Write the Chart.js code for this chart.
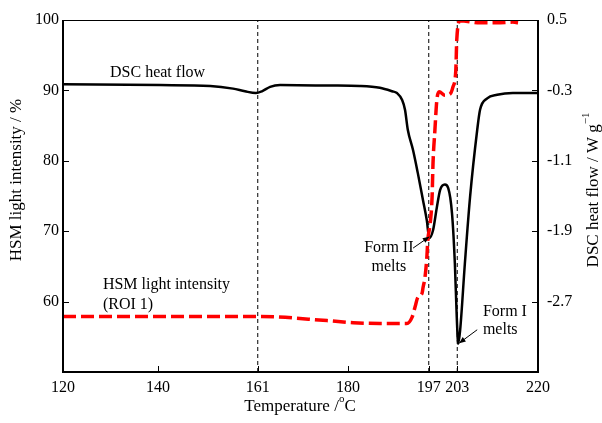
<!DOCTYPE html>
<html>
<head>
<meta charset="utf-8">
<script src="https://cdn.jsdelivr.net/npm/chart.js@4"></script>
<style>
  html, body { margin: 0; padding: 0; background: #fff; }
  #wrap { width: 602px; height: 423px; }
</style>
</head>
<body>
<div id="wrap"><canvas id="dscChart" width="602" height="423"></canvas></div>
<script>
// axis ticks
const tempTicks = [120, 140, 161, 180, 197, 203, 220];
const hsmTicks = [60, 70, 80, 90, 100];
const dscTicks = [0.5, -0.3, -1.1, -1.9, -2.7];
// dashed marker lines (°C)
const markerTemps = [161, 197, 203];

// DSC heat flow (W/g)
const dscTemp = [120, 140.4, 151, 155.8, 158.3, 160.6, 161.9, 163.6, 165.7, 176.2,
                 182.5, 186.7, 189.3, 190.3, 191.4, 192.0, 192.6, 193.7, 194.7, 195.8,
                 196.6, 197.1, 197.9, 198.7, 199.4, 200.4, 201.1, 201.9, 202.5, 202.9,
                 203.2, 203.6, 204.6, 205.7, 207.2, 207.8, 209.3, 211.4, 214.7, 220];
const dscFlow = [-0.23, -0.24, -0.25, -0.28, -0.31, -0.33, -0.31, -0.26, -0.24, -0.245,
                 -0.25, -0.27, -0.31, -0.33, -0.41, -0.52, -0.75, -0.98, -1.24, -1.55,
                 -1.78, -1.98, -1.89, -1.63, -1.43, -1.37, -1.41, -1.70, -2.27, -2.88,
                 -3.18, -3.03, -2.27, -1.51, -0.75, -0.52, -0.39, -0.35, -0.33, -0.33];

// HSM light intensity (%), ROI 1
const hsmTemp = [120, 140, 161, 175.6, 181.1, 186.7, 192.4, 193.5, 194.1, 194.7,
                 195.6, 195.8, 196.2, 196.6, 196.8, 197.3, 197.7, 197.9, 198.3, 198.7,
                 199.2, 200.4, 201.5, 202.1, 202.7, 202.9, 203.6, 207.8, 211.4, 214.7, 215.8];
const hsmLight = [57.9, 57.9, 57.9, 57.3, 57.0, 56.9, 56.9, 57.8, 59.2, 60.6,
                  61.2, 62.0, 63.4, 66.3, 68.7, 71.1, 74.8, 79.7, 84.4, 88.6,
                  89.8, 89.3, 89.5, 90.5, 92.9, 97.2, 99.9, 99.6, 99.6, 99.7, 99.6];

const FONT = '"Liberation Serif", "Times New Roman", serif';
const toPts = (xs, ys) => xs.map((v, i) => ({ x: v, y: ys[i] }));
const fixTicks = list => s => { s.ticks = list.map(v => ({ value: v })); };

// draws text made of normal / superscript pieces, centred on (cx, cy)
function drawRich(ctx, parts, cx, cy, angle, size) {
    const supSize = Math.round(size * 0.65);
    let total = 0;
    const widths = parts.map(p => {
        ctx.font = (p.sup ? supSize : size) + 'px ' + FONT;
        const w = ctx.measureText(p.t).width;
        total += w;
        return w;
    });
    ctx.save();
    ctx.translate(cx, cy);
    ctx.rotate(angle);
    ctx.textBaseline = 'middle';
    ctx.textAlign = 'left';
    ctx.fillStyle = '#000';
    let px = -total / 2;
    parts.forEach((p, i) => {
        ctx.font = (p.sup ? supSize : size) + 'px ' + FONT;
        ctx.fillText(p.t, px, p.sup ? -size * 0.45 : 0);
        px += widths[i];
    });
    ctx.restore();
}

const decor = {
    id: 'decor',
    afterDatasetsDraw(chart) {
        const { ctx, chartArea: a, scales: { x, y, y1 } } = chart;
        ctx.save();
        ctx.strokeStyle = '#000';

        // axes box
        ctx.lineWidth = 2;
        ctx.beginPath();
        ctx.moveTo(a.left, a.top);
        ctx.lineTo(a.left, a.bottom);
        ctx.lineTo(a.right, a.bottom);
        ctx.lineTo(a.right, a.top);
        ctx.stroke();
        ctx.lineWidth = 1;
        ctx.beginPath();
        ctx.moveTo(a.left, a.top + 0.5);
        ctx.lineTo(a.right, a.top + 0.5);
        ctx.stroke();

        // inward tick marks
        ctx.lineWidth = 1;
        ctx.beginPath();
        x.ticks.forEach(t => {
            const p = Math.round(x.getPixelForValue(t.value)) + 0.5;
            ctx.moveTo(p, a.bottom); ctx.lineTo(p, a.bottom - 6);
        });
        y.ticks.forEach(t => {
            const p = Math.round(y.getPixelForValue(t.value)) + 0.5;
            ctx.moveTo(a.left, p); ctx.lineTo(a.left + 6, p);
        });
        y1.ticks.forEach(t => {
            const p = Math.round(y1.getPixelForValue(t.value)) + 0.5;
            ctx.moveTo(a.right, p); ctx.lineTo(a.right - 6, p);
        });
        ctx.stroke();

        // curve labels
        ctx.fillStyle = '#000';
        ctx.font = '16px ' + FONT;
        ctx.textBaseline = 'middle';
        const label = (txt, tx, vy, align) => {
            ctx.textAlign = align || 'left';
            ctx.fillText(txt, x.getPixelForValue(tx), y.getPixelForValue(vy));
        };
        label('DSC heat flow', 129.9, 92.5);
        label('HSM light intensity', 128.4, 62.4);
        label('(ROI 1)', 128.4, 59.6);
        label('Form II', 188.6, 67.6, 'center');
        label('melts', 188.6, 64.9, 'center');
        label('Form I', 208.4, 58.6);
        label('melts', 208.4, 56.0);

        // arrows
        const arrow = (t0, v0, t1, v1) => {
            const xa = x.getPixelForValue(t0), ya = y.getPixelForValue(v0);
            const xb = x.getPixelForValue(t1), yb = y.getPixelForValue(v1);
            const ang = Math.atan2(yb - ya, xb - xa);
            ctx.lineWidth = 1;
            ctx.beginPath();
            ctx.moveTo(xa, ya); ctx.lineTo(xb, yb);
            ctx.stroke();
            ctx.beginPath();
            ctx.moveTo(xb, yb);
            ctx.lineTo(xb - 7 * Math.cos(ang - 0.4), yb - 7 * Math.sin(ang - 0.4));
            ctx.lineTo(xb - 7 * Math.cos(ang + 0.4), yb - 7 * Math.sin(ang + 0.4));
            ctx.closePath();
            ctx.fill();
        };
        arrow(193.7, 67.6, 197.1, 69.2);
        arrow(207.2, 56.0, 203.4, 54.1);
        ctx.restore();
    },
    afterDraw(chart) {
        const { ctx } = chart;
        drawRich(ctx, [{ t: 'Temperature /' }, { t: 'o', sup: true }, { t: 'C' }],
            300, 407, 0, 17);
        drawRich(ctx, [{ t: 'HSM light intensity / %' }], 17, 180, -Math.PI / 2, 17);
        drawRich(ctx, [{ t: 'DSC heat flow / W g' }, { t: '\u22121', sup: true }],
            594, 190, -Math.PI / 2, 17);
    }
};

const ctx = document.getElementById('dscChart');
new Chart(ctx, {
    type: 'line',
    data: {
        datasets: [
            {
                label: 'HSM light intensity (ROI 1)',
                data: toPts(hsmTemp, hsmLight),
                yAxisID: 'y',
                borderColor: '#ff0000',
                borderWidth: 3.5,
                borderDash: [13, 5],
                cubicInterpolationMode: 'monotone'
            },
            {
                label: 'DSC heat flow',
                data: toPts(dscTemp, dscFlow),
                yAxisID: 'y1',
                borderColor: '#000000',
                borderWidth: 2.5,
                cubicInterpolationMode: 'monotone'
            },
            ...markerTemps.map(t => ({
                label: t + ' °C',
                data: [{ x: t, y: 50 }, { x: t, y: 100 }],
                yAxisID: 'y',
                borderColor: '#000000',
                borderWidth: 1,
                borderDash: [4, 3]
            }))
        ]
    },
    options: {
        responsive: false,
        animation: false,
        layout: { padding: { top: 20, left: 0, right: 0, bottom: 0 } },
        elements: { point: { radius: 0 } },
        plugins: {
            legend: { display: false },
            tooltip: { enabled: false }
        },
        scales: {
            x: {
                type: 'linear',
                min: 120, max: 220,
                afterBuildTicks: fixTicks(tempTicks),
                afterFit: s => { s.height = 51; },
                grid: { display: false, drawTicks: false },
                border: { display: false },
                ticks: { color: '#000', font: { family: FONT, size: 16 }, padding: 6, maxRotation: 0, autoSkip: false }
            },
            y: {
                position: 'left',
                min: 50, max: 100,
                afterBuildTicks: fixTicks(hsmTicks),
                afterFit: s => { s.width = 63; },
                grid: { display: false, drawTicks: false },
                border: { display: false },
                ticks: { color: '#000', font: { family: FONT, size: 16 }, padding: 4 }
            },
            y1: {
                position: 'right',
                min: -3.5, max: 0.5,
                afterBuildTicks: fixTicks(dscTicks),
                afterFit: s => { s.width = 64; },
                grid: { display: false, drawTicks: false },
                border: { display: false },
                ticks: {
                    color: '#000', font: { family: FONT, size: 16 }, padding: 9,
                    callback: v => v.toFixed(1)
                }
            }
        }
    },
    plugins: [decor]
});
</script>
</body>
</html>
